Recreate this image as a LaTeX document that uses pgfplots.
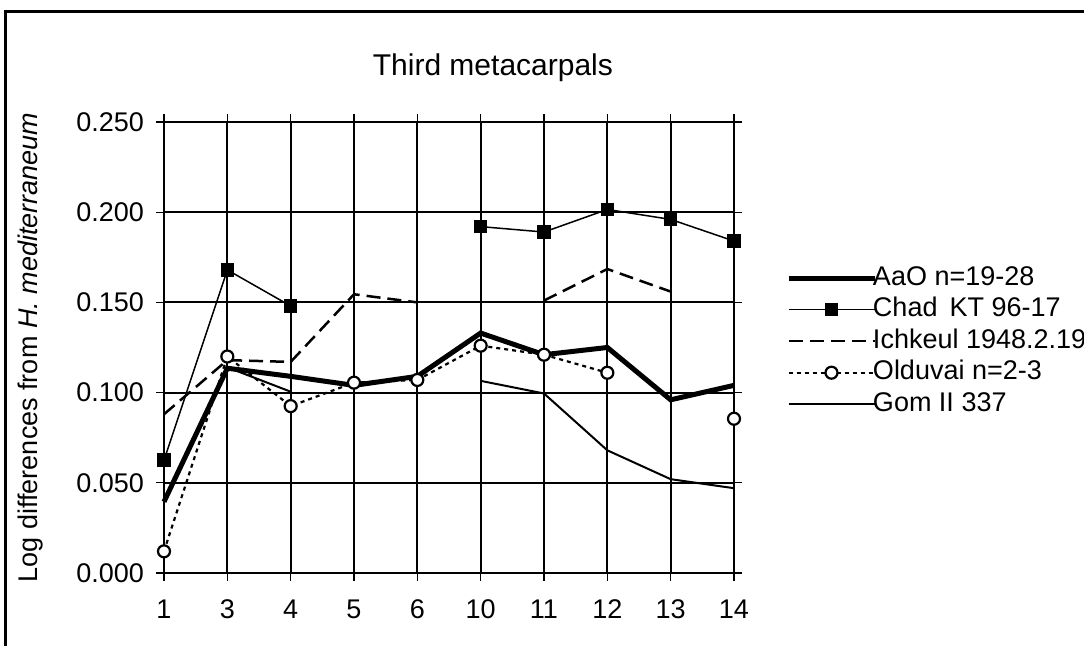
\documentclass[border=0pt]{standalone}
\usepackage{pgfplots}
\pgfplotsset{compat=1.18}
\usepackage{fontspec}
\setmainfont{Liberation Sans}
\newcommand\mainsize{\fontsize{13.5}{16}\selectfont}
\newcommand\titlesize{\fontsize{15}{18}\selectfont}
\begin{document}
\begin{tikzpicture}[font=\mainsize]
\path[use as bounding box] (0,0) rectangle (542pt,323pt);
\draw[line width=1.5pt] (2.5pt,0) -- (2.5pt,317pt) -- (542pt,317pt);
\begin{axis}[
  at={(82pt,36.5pt)}, anchor=south west,
  scale only axis, width=285pt, height=225.5pt,
  xmin=0, xmax=9, ymin=0, ymax=0.25,
  xtick={0,1,2,3,4,5,6,7,8,9},
  xticklabels={1,3,4,5,6,10,11,12,13,14},
  ytick={0,0.05,0.1,0.15,0.2,0.25},
  yticklabel style={/pgf/number format/.cd, fixed, fixed zerofill, precision=3, assume math mode=true, /tikz/.cd, xshift=-2.5pt, font=\mainsize},
  xticklabel style={/pgf/number format/assume math mode=true, yshift=-6pt, font=\mainsize},
  grid=major,
  major grid style={black, line width=1pt},
  axis line style={black, line width=1.3pt},
  tick style={black, line width=0.6pt},
  tick align=outside, major tick length=4pt,
  clip=false,
  unbounded coords=jump,
  title={Third metacarpals},
  title style={at={(rel axis cs:0.577,1)}, anchor=base, yshift=17pt, font=\titlesize},
  ylabel={Log differences from \textit{H. mediterraneum}},
  ylabel style={at={(rel axis cs:-0.2333,0.5)}, anchor=center, font=\mainsize},
  legend style={at={(rel axis cs:1.08,0.690)}, anchor=north west, draw=none, fill=none,
    row sep=3.75pt, nodes={inner sep=0pt, text height=9.5pt, text depth=2.5pt}, font=\mainsize,
    /tikz/every odd column/.append style={column sep=-2pt}},
  legend cell align=left,
  legend image code/.code={\draw[mark repeat=2,mark phase=2,#1] plot coordinates {(0pt,0pt) (21.5pt,0pt) (43pt,0pt)};},
]
\addplot[black, line width=2.5pt, line join=miter] coordinates {
(0,0.0395) (1,0.1135) (2,0.109) (3,0.104) (4,0.109) (5,0.133) (6,0.121) (7,0.125) (8,0.096) (9,0.104)};
\addlegendentry{AaO n=19-28}
\addplot[black, line width=0.75pt, mark=square*, mark size=3pt, mark options={solid, fill=black}] coordinates {
(0,0.0625) (1,0.168) (2,0.148) (3,nan) (4,nan) (5,0.192) (6,0.189) (7,0.2015) (8,0.196) (9,0.184)};
\addlegendentry{Chad\, KT 96-17}
\addplot[black, line width=1.25pt, dash pattern=on 7pt off 3.5pt] coordinates {
(0,0.088) (1,0.118) (2,0.117) (3,0.1545) (4,0.150) (5,nan) (6,0.151) (7,0.1685) (8,0.156) (9,nan)};
\addlegendentry{Ichkeul 1948.2.19}
\addplot[black, line width=1.1pt, dash pattern=on 2pt off 2pt, mark=*, mark size=3pt, mark options={solid, fill=white, line width=1.1pt}] coordinates {
(0,0.012) (1,0.120) (2,0.0925) (3,0.1055) (4,0.107) (5,0.126) (6,0.121) (7,0.111) (8,nan) (9,0.0855)};
\addlegendentry{Olduvai n=2-3}
\addplot[black, line width=1pt] coordinates {
(0,nan) (1,0.114) (2,0.1005) (3,nan) (4,nan) (5,0.1065) (6,0.0995) (7,0.068) (8,0.052) (9,0.047)};
\addlegendentry{Gom II 337}
\end{axis}
\end{tikzpicture}
\end{document}
